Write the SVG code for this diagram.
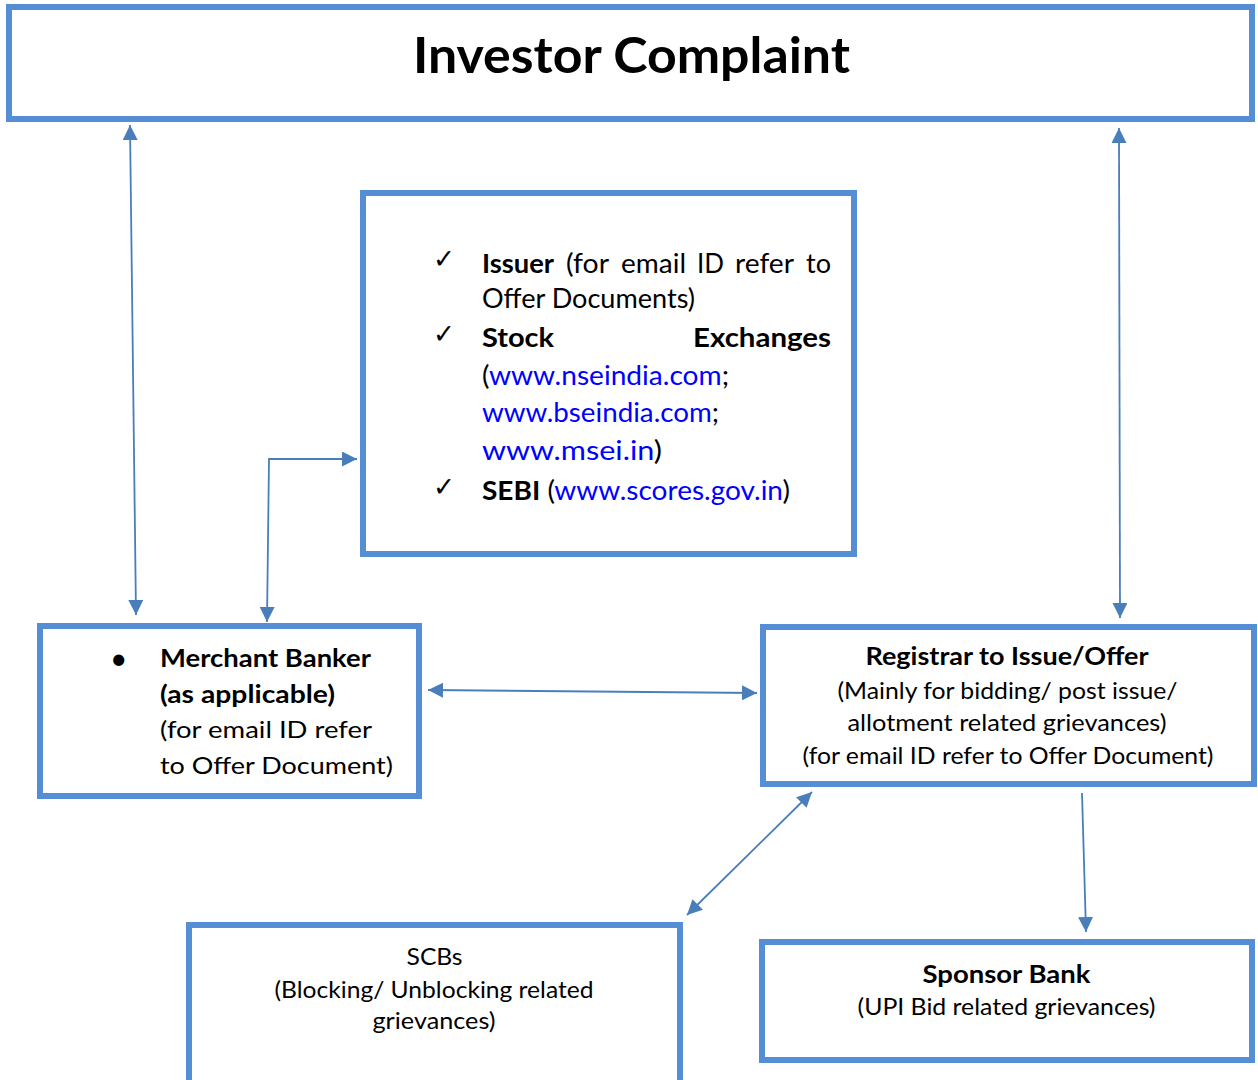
<svg xmlns="http://www.w3.org/2000/svg" width="1258" height="1080" viewBox="0 0 1258 1080">
<defs>
<marker id="ah" markerUnits="userSpaceOnUse" markerWidth="16" markerHeight="15" refX="15" refY="7.5" orient="auto-start-reverse" viewBox="0 0 16 15">
<path d="M0,0 L15,7.5 L0,15 z" fill="#4a7ebb"/>
</marker>
</defs>
<style>
.box{fill:#fff;stroke:#558ed5;stroke-width:6}
.con{fill:none;stroke:#4a7ebb;stroke-width:1.8;marker-start:url(#ah);marker-end:url(#ah)}
.one{fill:none;stroke:#4a7ebb;stroke-width:1.8;marker-end:url(#ah)}
text{font-family:Lato,"Liberation Sans",sans-serif;fill:#000}
.b{font-weight:bold}
.m{font-size:27px}
.s{font-size:24px}
.lnk{fill:#0000ff}
.chk{font-family:"DejaVu Sans",sans-serif;font-size:27px}
.c{text-anchor:middle}
</style>
<rect width="1258" height="1080" fill="#fff"/>
<g id="investor-complaint">
<rect class="box" x="9" y="7" width="1243" height="112"/>
<text class="b c" x="631.5" y="73" font-size="49" textLength="437" lengthAdjust="spacingAndGlyphs">Investor Complaint</text>
</g>
<g id="issuer-exchanges-sebi">
<rect class="box" x="363" y="193" width="491" height="361"/>
<text class="chk" x="433" y="268" textLength="22" lengthAdjust="spacingAndGlyphs">✓</text>
<text class="chk" x="433" y="343" textLength="22" lengthAdjust="spacingAndGlyphs">✓</text>
<text class="chk" x="433" y="496" textLength="22" lengthAdjust="spacingAndGlyphs">✓</text>
<text class="m b" x="482" y="273" textLength="72" lengthAdjust="spacingAndGlyphs">Issuer</text>
<text class="m" x="566" y="273" textLength="43" lengthAdjust="spacingAndGlyphs">(for</text>
<text class="m" x="621" y="273" textLength="65" lengthAdjust="spacingAndGlyphs">email</text>
<text class="m" x="697" y="273" textLength="27" lengthAdjust="spacingAndGlyphs">ID</text>
<text class="m" x="735" y="273" textLength="59" lengthAdjust="spacingAndGlyphs">refer</text>
<text class="m" x="806" y="273" textLength="25" lengthAdjust="spacingAndGlyphs">to</text>
<text class="m" x="482" y="308" textLength="213" lengthAdjust="spacingAndGlyphs">Offer Documents)</text>
<text class="m b" x="482" y="347" textLength="72" lengthAdjust="spacingAndGlyphs">Stock</text>
<text class="m b" x="693" y="347" textLength="138" lengthAdjust="spacingAndGlyphs">Exchanges</text>
<text class="m" x="482" y="385" textLength="247" lengthAdjust="spacingAndGlyphs">(<tspan class="lnk">www.nseindia.com</tspan>;</text>
<text class="m" x="482" y="422" textLength="237" lengthAdjust="spacingAndGlyphs"><tspan class="lnk">www.bseindia.com</tspan>;</text>
<text class="m" x="482" y="460" textLength="180" lengthAdjust="spacingAndGlyphs"><tspan class="lnk">www.msei.in</tspan>)</text>
<text class="m" x="482" y="500" textLength="308" lengthAdjust="spacingAndGlyphs"><tspan class="b">SEBI</tspan> (<tspan class="lnk">www.scores.gov.in</tspan>)</text>
</g>
<g id="merchant-banker">
<rect class="box" x="40" y="626" width="379" height="170"/>
<text x="110" y="669" font-family="Liberation Sans" font-size="30">•</text>
<text class="s b" x="160" y="667" textLength="211" lengthAdjust="spacingAndGlyphs">Merchant Banker</text>
<text class="s b" x="160" y="703" textLength="175" lengthAdjust="spacingAndGlyphs">(as applicable)</text>
<text class="s" x="160" y="738" textLength="212" lengthAdjust="spacingAndGlyphs">(for email ID refer</text>
<text class="s" x="160" y="774" textLength="233" lengthAdjust="spacingAndGlyphs">to Offer Document)</text>
</g>
<g id="registrar">
<rect class="box" x="763" y="627" width="491" height="157"/>
<text class="s b c" x="1007" y="665" textLength="283" lengthAdjust="spacingAndGlyphs">Registrar to Issue/Offer</text>
<text class="s c" x="1007.5" y="699" textLength="340" lengthAdjust="spacingAndGlyphs">(Mainly for bidding/ post issue/</text>
<text class="s c" x="1007" y="731" textLength="319" lengthAdjust="spacingAndGlyphs">allotment related grievances)</text>
<text class="s c" x="1008" y="764" textLength="411" lengthAdjust="spacingAndGlyphs">(for email ID refer to Offer Document)</text>
</g>
<g id="scbs">
<rect class="box" x="189" y="925" width="491" height="180"/>
<text class="s c" x="434.5" y="965" textLength="56" lengthAdjust="spacingAndGlyphs">SCBs</text>
<text class="s c" x="434" y="998" textLength="319" lengthAdjust="spacingAndGlyphs">(Blocking/ Unblocking related</text>
<text class="s c" x="434" y="1029" textLength="123" lengthAdjust="spacingAndGlyphs">grievances)</text>
</g>
<g id="sponsor-bank">
<rect class="box" x="762" y="942" width="490" height="118"/>
<text class="s b c" x="1006.5" y="983" textLength="168" lengthAdjust="spacingAndGlyphs">Sponsor Bank</text>
<text class="s c" x="1006.5" y="1015" textLength="298" lengthAdjust="spacingAndGlyphs">(UPI Bid related grievances)</text>
</g>
<g id="connectors">
<path class="con" d="M130,125 L136,615"/>
<path class="con" d="M267,622 L269,459 L357,459"/>
<path class="con" d="M1119,128 L1120,618"/>
<path class="con" d="M428,690 L757,693"/>
<path class="con" d="M812,792 L687,915"/>
<path class="one" d="M1082,793 L1086,932"/>
</g>
</svg>
